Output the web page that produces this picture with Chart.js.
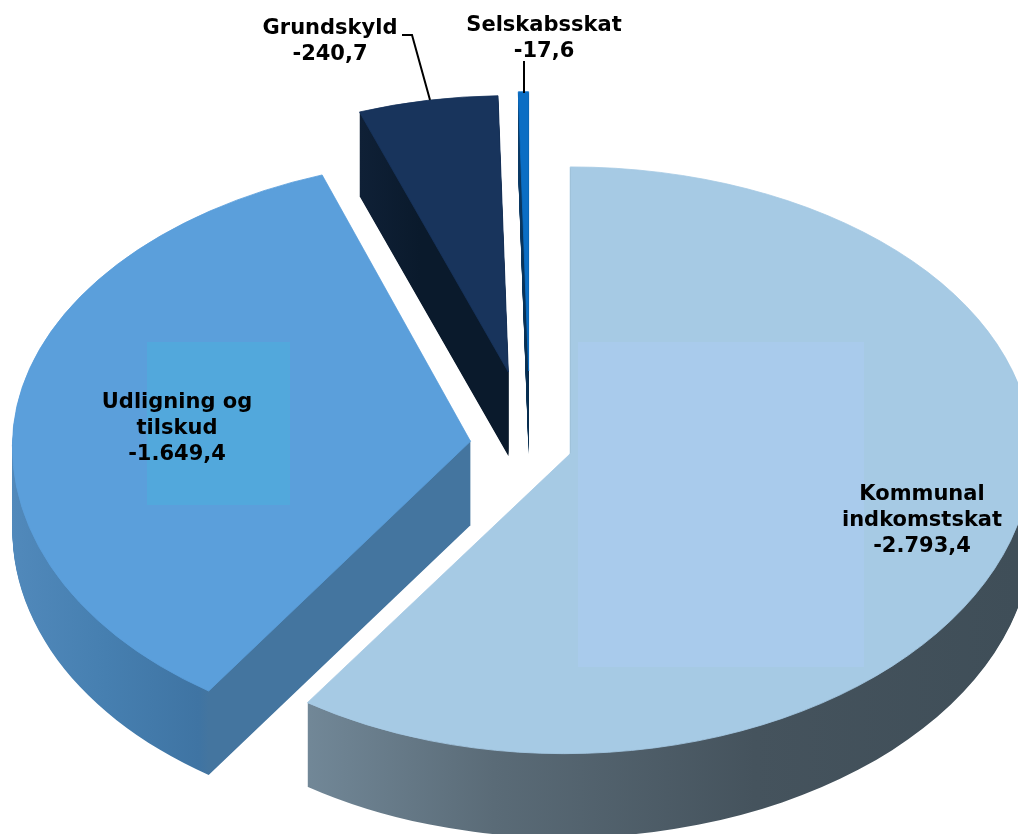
<!DOCTYPE html>
<html>
<head>
<meta charset="utf-8">
<title>Finansiering</title>
<script src="https://cdn.jsdelivr.net/npm/chart.js@4/dist/chart.umd.min.js"></script>
<style>
    html, body { margin: 0; background: #fff; }
    canvas { display: block; }
</style>
</head>
<body>
<canvas id="chart" width="1018" height="834"></canvas>
<script>
// Data
const categories = [['Kommunal', 'indkomstskat'], ['Udligning og', 'tilskud'], ['Grundskyld'], ['Selskabsskat']];
const values = [-2793.4, -1649.4, -240.7, -17.6];

// Look of the tilted pie
const topColors = ['#a6cae4', '#5b9fdb', '#18345c', '#0b6ec4'];
const wallColors = [
    [[308, '#728898'], [500, '#5a6b77'], [760, '#45535d'], [1018, '#3f4e58']],
    [[12, '#5189bb'], [110, '#467fb0'], [205, '#3f74a3'], [215, '#44759f'], [470, '#44759f']],
    [[360, '#0f2036'], [420, '#0a1a2c'], [510, '#0a1a2c']],
    [[518, '#0a3a66'], [530, '#062a4a']]
];
const explode = [42, 60, 118, 118];
const radii = [462, 458, 440, 440];
const backTilt = [0.621, 0.618, 0.628, 0.634];
const frontTilt = [0.649, 0.657, 0.628, 0.634];
const backShear = [0, -0.025, 0, 0];
const frontShear = [-0.02, -0.025, 0, 0];
const pieCenter = { x: 530, y: 446 };
const baseTilt = 0.638;
const depth = 84;

const labelAnchors = [[922, 495], [177, 403], [330, 29], [544, 26]];
const labelFont = 'bold 21px "DejaVu Sans"';
const lineHeight = 26;
const leaderLines = [
    [[402, 35], [412, 35], [430, 100]],
    [[524, 61], [524, 93]]
];
const labelPatches = [
    { x: 578, y: 342, w: 286, h: 325, color: '#a9cbec' },
    { x: 147, y: 342, w: 143, h: 163, color: '#52a8dc' }
];

const formatValue = v => v.toLocaleString('da-DK', { minimumFractionDigits: 1, maximumFractionDigits: 1 });

const arcDraw = Chart.ArcElement.prototype.draw;

const tiltedPie = {
    id: 'tiltedPie',

    afterDatasetsUpdate(chart) {
        const arcs = chart.getDatasetMeta(0).data;
        this.cx = arcs[0].x;
        this.cy = arcs[0].y;
        arcs.forEach((arc, i) => {
            const mid = (arc.startAngle + arc.endAngle) / 2;
            arc.x += Math.cos(mid) * explode[i];
            arc.y += Math.sin(mid) * explode[i];
            arc.outerRadius = radii[i];
            arc.draw = ctx => this.drawTilted(ctx, arc, arc, i, 0);
        });
    },

    // The far half of the pie is flatter than the near half, so each slice is drawn in two parts
    drawTilted(ctx, arc, el, i, shift) {
        const apexX = pieCenter.x + arc.x - this.cx;
        const apexY = pieCenter.y + (arc.y - this.cy) * baseTilt + shift;
        const parts = [
            { tilt: backTilt[i], shear: backShear[i], top: -2000, bottom: apexY + 0.5 },
            { tilt: frontTilt[i], shear: frontShear[i], top: apexY - 0.5, bottom: 2000 }
        ];
        parts.forEach(p => {
            ctx.save();
            ctx.beginPath();
            ctx.rect(-100, p.top, 1300, p.bottom - p.top);
            ctx.clip();
            ctx.translate(apexX, apexY);
            ctx.transform(1, 0, p.shear, 1, 0, 0);
            ctx.scale(1, p.tilt);
            ctx.translate(-arc.x, -arc.y);
            arcDraw.call(el, ctx);
            ctx.restore();
        });
    },

    beforeDatasetsDraw(chart) {
        const ctx = chart.ctx;
        const arcs = chart.getDatasetMeta(0).data;

        // Side walls: stamp each slice downwards, one pixel at a time
        arcs.forEach((arc, i) => {
            const stops = wallColors[i];
            const apexX = pieCenter.x + arc.x - this.cx;
            const toChartX = x => x - apexX + arc.x;
            const first = stops[0][0];
            const last = stops[stops.length - 1][0];
            const grad = ctx.createLinearGradient(toChartX(first), 0, toChartX(last), 0);
            stops.forEach(s => grad.addColorStop((s[0] - first) / (last - first), s[1]));

            const ghost = Object.create(arc);
            ghost.options = Object.assign({}, arc.options, { backgroundColor: grad, borderWidth: 0 });
            for (let d = depth; d > 0; d--) {
                this.drawTilted(ctx, arc, ghost, i, d);
            }
        });
    },

    afterDatasetsDraw(chart) {
        const ctx = chart.ctx;

        labelPatches.forEach(p => {
            ctx.fillStyle = p.color;
            ctx.fillRect(p.x, p.y, p.w, p.h);
        });

        ctx.strokeStyle = '#000';
        ctx.lineWidth = 2;
        leaderLines.forEach(line => {
            ctx.beginPath();
            line.forEach((p, i) => i ? ctx.lineTo(p[0], p[1]) : ctx.moveTo(p[0], p[1]));
            ctx.stroke();
        });

        ctx.fillStyle = '#000';
        ctx.font = labelFont;
        ctx.textAlign = 'center';
        ctx.textBaseline = 'middle';
        categories.forEach((cat, i) => {
            const lines = cat.concat(formatValue(values[i]));
            lines.forEach((text, n) => {
                ctx.fillText(text, labelAnchors[i][0], labelAnchors[i][1] + n * lineHeight);
            });
        });
    }
};

new Chart(document.getElementById('chart'), {
    type: 'pie',
    data: {
        labels: categories.map(c => c.join(' ')),
        datasets: [{
            data: values,
            backgroundColor: topColors,
            borderColor: topColors,
            borderWidth: 1,
            clip: false
        }]
    },
    options: {
        responsive: false,
        animation: false,
        events: [],
        plugins: { legend: { display: false }, tooltip: { enabled: false } }
    },
    plugins: [tiltedPie]
});
</script>
</body>
</html>
